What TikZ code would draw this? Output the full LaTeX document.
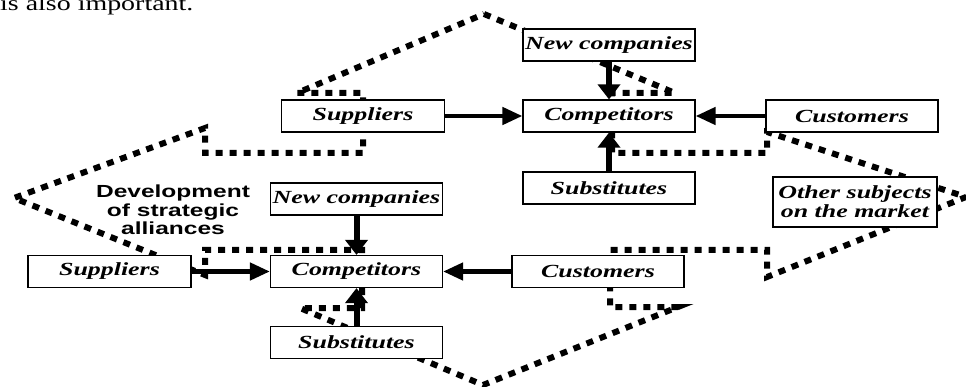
\documentclass[tikz,border=0pt]{standalone}
\usepackage{fontspec}
\setmainfont{Liberation Serif}
\newfontfamily\devfont{Liberation Sans}
\usepackage{graphicx}
\usetikzlibrary{arrows.meta}
\newcommand{\stretchx}[1]{\scalebox{1.4}[1]{#1}}

\begin{document}
\begin{tikzpicture}[x=1pt, y=-1pt,
    box/.style={draw, line width=1.2pt, fill=white, minimum width=172pt, minimum height=32pt,
        inner sep=0pt, font=\fontsize{18.5}{19}\selectfont\bfseries\itshape},
    alliance/.style={line width=6pt, dash pattern=on 7pt off 7pt},
    harr/.style={line width=4.5pt, -{Triangle[length=20pt, width=17pt]}},
    varr/.style={line width=6pt, -{Triangle[length=15pt, width=22pt]}}]
  \useasboundingbox (0,0) rectangle (966,387);
  \clip (0,0) rectangle (966,387);
  \node[anchor=base west, inner sep=0pt, font=\fontsize{21}{23}\selectfont] (intro) at (0,11)
      {\scalebox{1.33}[1]{is also important.}};
  % alliance outline
  \draw[alliance] (484,14) -- (675,93) -- (612,93) -- (612,153) -- (767,153) -- (767,132)
      -- (966,197) -- (767,277) -- (767,250) -- (610,250) -- (610,307) -- (678,307)
      -- (483,385) -- (300,308) -- (362,308) -- (362,250) -- (205,250) -- (205,275)
      -- (14,198) -- (205,128) -- (205,153) -- (363,153) -- (363,93) -- (297,93) -- cycle;
  % upper market
  \node[box, minimum width=163pt] (supT) at (363,116) {\stretchx{Suppliers}};
  \node[box] (newT) at (609,45) {\stretchx{New companies}};
  \node[box] (compT) at (609,116) {\stretchx{Competitors}};
  \node[box] (custT) at (852,116) {\stretchx{Customers}};
  \node[box] (subT) at (609,188) {\stretchx{Substitutes}};
  \node[box, minimum width=164pt, minimum height=50pt, align=center] (other) at (855,202)
      {\stretchx{Other subjects}\\\stretchx{on the market}};
  \draw[harr] (supT) -- (compT);
  \draw[harr] (custT) -- (compT);
  \draw[varr] (newT) -- (compT);
  \draw[varr] (subT) -- (compT);
  % lower market
  \node[font=\devfont\bfseries\fontsize{17.5}{18.5}\selectfont, align=center] (dev) at (173,210)
      {\stretchx{Development}\\\stretchx{of strategic}\\\stretchx{alliances}};
  \node[box] (newB) at (356.5,199) {\stretchx{New companies}};
  \node[box, minimum width=163pt] (supB) at (109.5,271.5) {\stretchx{Suppliers}};
  \node[box] (compB) at (356.5,271.5) {\stretchx{Competitors}};
  \node[box] (custB) at (598,271.5) {\stretchx{Customers}};
  \node[box] (subB) at (356.5,342.5) {\stretchx{Substitutes}};
  \draw[harr] (supB) -- (compB);
  \draw[harr] (custB) -- (compB);
  \draw[varr] (newB) -- (compB);
  \draw[varr] (subB) -- (compB);
\end{tikzpicture}
\end{document}
